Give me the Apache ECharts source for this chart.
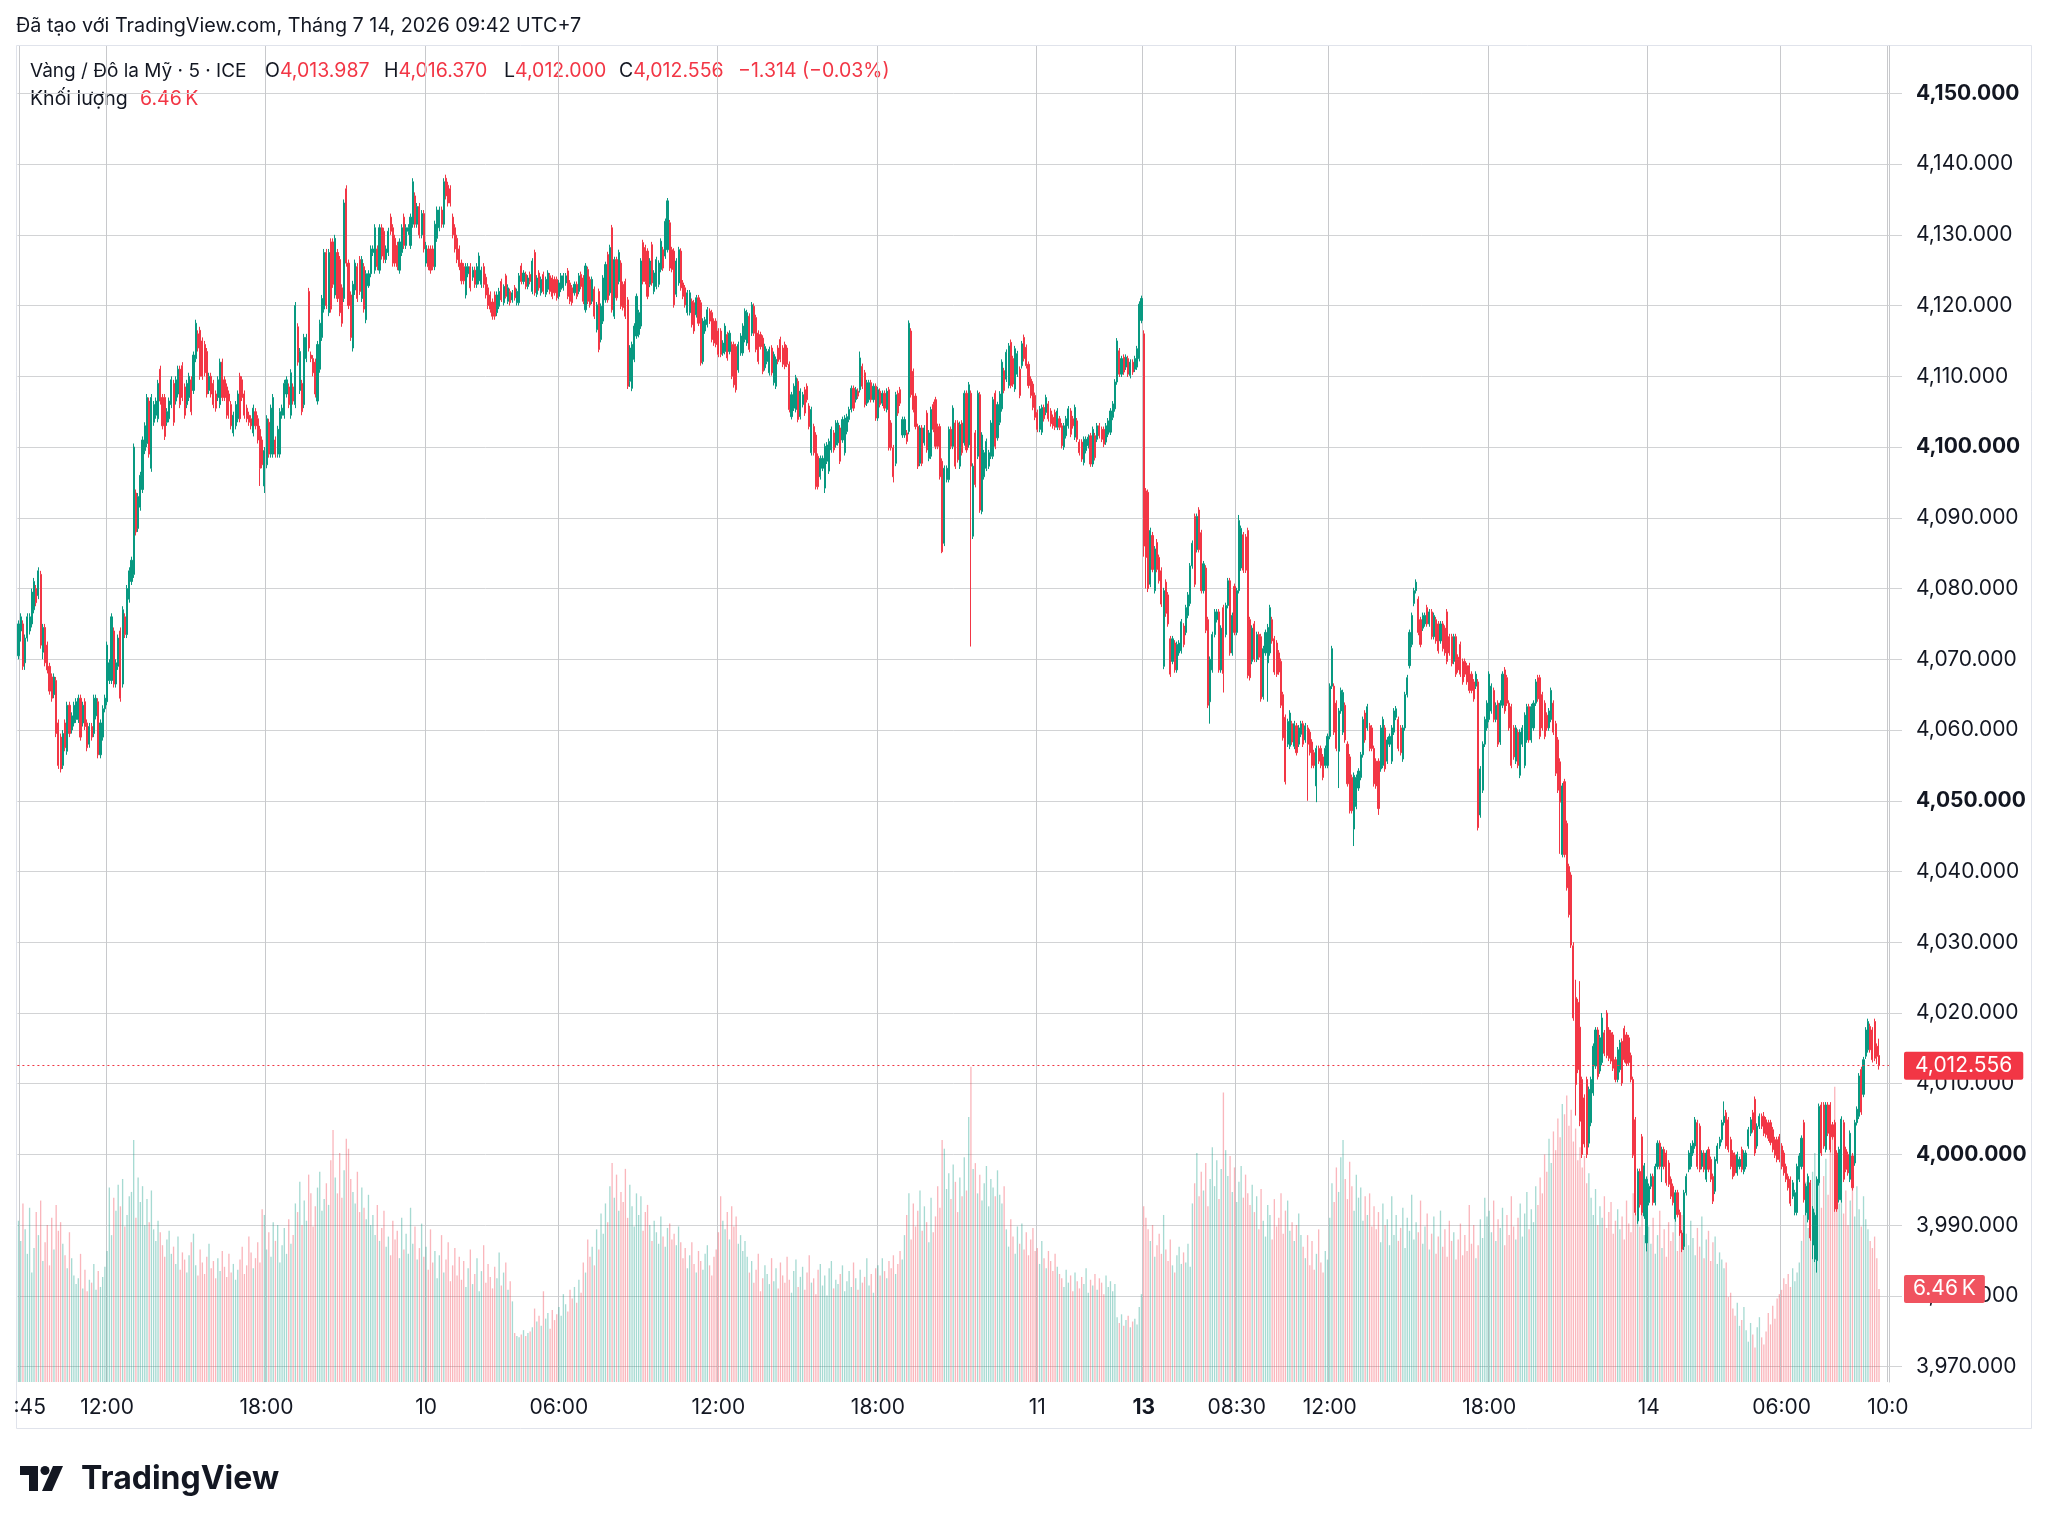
<!DOCTYPE html>
<html><head><meta charset="utf-8">
<script src="https://cdn.jsdelivr.net/npm/echarts@6/dist/echarts.min.js"></script>
<style>html,body{margin:0;padding:0;background:#fff}#c{width:2048px;height:1529px}</style>
</head><body><div id="c"></div>
<script>
// ---- time sessions (5-minute bars, UTC+7) ----
const sessions = [['09','08:40','23:55'],['10','00:00','03:55'],['10','05:00','23:55'],['11','00:00','03:55'],['13','05:00','23:55'],['14','00:00','03:55'],['14','05:00','10:00']];
// ---- x tick labels ----
const tickLabels = [['09 08:45',':45'],['09 12:00','12:00'],['09 18:00','18:00'],['10 00:00','10'],['10 06:00','06:00'],['10 12:00','12:00'],['10 18:00','18:00'],['11 00:00','11'],['13 05:00','13'],['13 08:30','08:30'],['13 12:00','12:00'],['13 18:00','18:00'],['14 00:00','14'],['14 06:00','06:00'],['14 10:00','10:0']];
const priceTicks = [3970,3980,3990,4000,4010,4020,4030,4040,4050,4060,4070,4080,4090,4100,4110,4120,4130,4140,4150];
// ---- candles [open, close, low, high] ----
const day09 = [
[4070.5,4075,4070,4075.5],[4074,4076,4072.5,4076.5],[4075,4069,4068.5,4075.5],[4069.5,4073,4068.5,4073.5],[4073,4076,4072.5,4076.5],[4074,4076,4073.5,4076.5],[4075,4079.5,4074.5,4080],[4077,4081,4076.5,4081.5],[4080,4078,4077.5,4080.5],[4079,4082.5,4078.5,4083],
[4082,4072,4071.5,4082.5],[4071,4074.5,4070,4075],[4074.5,4069.5,4069,4075],[4072,4068.5,4068,4072.5],[4069,4065.5,4065,4069.5],[4067.5,4064.5,4064,4068],[4065,4067.5,4064.5,4068],[4067,4059.5,4059,4067.5],[4061,4055,4054.5,4061.5],[4059,4054.5,4054,4059.5],
[4055,4059.5,4054.5,4060],[4061,4057.5,4057,4061.5],[4057,4063.5,4056.5,4064],[4063.5,4059.5,4059,4064],[4060,4062,4059.5,4062.5],[4061,4063.5,4060.5,4064],[4061.5,4064,4061,4064.5],[4061.5,4064.5,4061,4065],[4064.5,4059,4058.5,4065],[4061,4063.5,4060.5,4064],
[4064,4060.5,4060,4064.5],[4061,4057.5,4057,4061.5],[4058,4060.5,4057.5,4061],[4060.5,4059,4058.5,4061],[4059.5,4064.5,4059,4065],[4062,4064.5,4061.5,4065],[4064,4056.5,4056,4064.5],[4056.5,4061,4056,4061.5],[4059,4063,4058.5,4063.5],[4063,4064.5,4062.5,4065],
[4064,4072,4063.5,4072.5],[4067,4069.5,4066.5,4070],[4067,4076,4066.5,4076.5],[4074,4066.5,4066,4074.5],[4066.5,4069.5,4066,4070],[4069,4073,4068.5,4073.5],[4074,4064.5,4064,4074.5],[4066.5,4077,4066,4077.5],[4076,4073.5,4073,4076.5],[4073.5,4080,4073,4080.5],
[4078.5,4082.5,4078,4083],[4081,4084,4080.5,4084.5],[4082,4100,4081.5,4100.5],[4093.5,4088,4087.5,4094],[4088.5,4093,4088,4093.5],[4091.5,4096,4091,4096.5],[4094,4101,4093.5,4101.5],[4099.5,4103,4099,4103.5],[4100.5,4107,4100,4107.5],[4106.5,4099,4098.5,4107],
[4097,4107,4096.5,4107.5],[4103.5,4106,4103,4106.5],[4104.5,4106.5,4104,4107],[4104,4109,4103.5,4109.5],[4111,4106.5,4106,4111.5],[4107,4103,4102.5,4107.5],[4107,4101.5,4101,4107.5],[4103.5,4105,4103,4105.5],[4104,4106.5,4103.5,4107],[4106,4109.5,4105.5,4110],
[4109,4103.5,4103,4109.5],[4106.5,4109.5,4106,4110],[4107.5,4111,4107,4111.5],[4111,4106,4105.5,4111.5],[4111.5,4107,4106.5,4112],[4108.5,4104.5,4104,4109],[4106,4109,4105.5,4109.5],[4107,4110,4106.5,4110.5],[4109.5,4105,4104.5,4110],[4108,4113,4107.5,4113.5],
[4112.5,4117.5,4112,4118],[4116,4114,4113.5,4116.5],[4116.5,4110,4109.5,4117],[4115,4110,4109.5,4115.5],[4114.5,4110.5,4110,4115],[4113.5,4107.5,4107,4114],[4108,4110,4107.5,4110.5],[4110,4107.5,4107,4110.5],[4109,4106,4105.5,4109.5],[4107.5,4105.5,4105,4108],
[4107,4109.5,4106.5,4110],[4106,4112,4105.5,4112.5],[4112,4107,4106.5,4112.5],[4109.5,4107,4106.5,4110],[4108.5,4104.5,4104,4109],[4107.5,4106.5,4104,4108],[4106,4103,4102.5,4106.5],[4102,4104.5,4101.5,4105],[4103,4106,4102.5,4106.5],[4104,4107.5,4103.5,4108],
[4110,4104,4103.5,4110.5],[4109.5,4107,4106.5,4110],[4107.5,4104.5,4104,4108],[4105.5,4104,4103.5,4106],[4104.5,4103.5,4103,4105],[4104,4103,4102.5,4104.5],[4102,4105.5,4101.5,4106],[4105,4103,4102.5,4105.5],[4104,4101,4100.5,4104.5],[4102.5,4097,4094.5,4103],
[4101,4097.5,4097,4101.5],[4094.5,4099.5,4093.5,4100],[4097.5,4104,4097,4104.5],[4103.5,4099,4098.5,4104],[4099,4105.5,4098.5,4106],[4099,4107,4098.5,4107.5],[4101,4099,4098.5,4101.5],[4099,4102.5,4098.5,4103],[4099,4105,4098.5,4105.5],[4104.5,4105.5,4104,4106],
[4104.5,4109,4104,4109.5],[4107.5,4109.5,4107,4110],[4108.5,4106,4105.5,4109],[4104.5,4110.5,4104,4111],[4108.5,4106.5,4106,4109],[4106,4120,4105.5,4120.5],[4117,4112,4111.5,4117.5],[4108,4113.5,4107.5,4114],[4109,4105,4104.5,4109.5],[4106,4115.5,4105.5,4116],
[4112.5,4115.5,4112,4116],[4122,4114,4113.5,4122.5],[4113,4112.5,4112,4113.5],[4112.5,4110.5,4110,4113],[4112,4107.5,4107,4112.5],[4106.5,4114.5,4106,4115],[4111,4117.5,4110.5,4118],[4115.5,4121,4115,4121.5],[4119.5,4127.5,4119,4128],[4127.5,4120,4119.5,4128],
[4119,4127.5,4118.5,4128],[4129,4119.5,4119,4129.5],[4129,4123,4122.5,4129.5],[4121.5,4129.5,4121,4130],[4127.5,4121,4120.5,4128],[4126.5,4119,4118.5,4127],[4122.5,4117.5,4117,4123],[4121,4134.5,4120.5,4135],[4136.5,4126,4125.5,4137],[4126,4120,4119.5,4126.5],
[4121.5,4115.5,4115,4122],[4114,4123,4113.5,4123.5],[4122.2,4126,4121.5,4126.5],[4125.5,4121,4120.5,4126],[4126.5,4122,4121.5,4127],[4121,4126.5,4120.5,4127],[4125.5,4119.5,4119,4126],[4118,4124.5,4117.5,4125],[4122.8,4124.5,4122.5,4125],[4124.5,4128,4124,4128.5],
[4127.5,4128,4127,4128.5],[4125,4131,4124.5,4131.5],[4128,4125.5,4125,4128.5],[4125,4131,4124.5,4131.5],[4131,4127,4126.5,4131.5],[4130.5,4126.5,4126,4131],[4126.5,4128,4126,4128.5],[4127.5,4130.5,4127,4131],[4132.5,4130.5,4130,4133],[4131,4126,4125.5,4131.5],
[4129.5,4126,4125.5,4130],[4128.5,4125.5,4125,4129],[4125,4129,4124.5,4129.5],[4127.5,4131,4127,4131.5],[4132.5,4128.5,4128,4133],[4128.5,4131,4128,4131.5],[4130.5,4131,4130,4131.5],[4128.5,4132.5,4128,4133],[4131.5,4137.5,4131,4138],[4135.5,4131.5,4131,4136],
[4131.5,4134,4131,4134.5],[4134,4130,4129.5,4134.5],[4130,4133,4129.5,4133.5],[4133,4128,4127.5,4133.5]];
const day10 = [
[4126,4128.5,4125.5,4129],[4128,4125.5,4125,4128.5],[4128,4125,4124.5,4128.5],[4128,4125.5,4125,4128.5],[4125.5,4131.5,4125,4132],[4129.5,4133.5,4129,4134],[4131,4133.5,4130.5,4134],[4133.5,4131.5,4131,4134],[4131.5,4137.5,4131,4138],[4138,4135.5,4135,4138.5],
[4137,4134.5,4134,4137.5],[4136.5,4134.5,4134,4137],[4132.5,4130,4129.5,4133],[4131,4128,4127.5,4131.5],[4129.5,4126.5,4126,4130],[4128,4125.5,4125,4128.5],
[4126,4123.5,4123,4126.5],[4125.5,4123.5,4123,4126],[4121.5,4125.5,4121,4126],[4124.5,4125.5,4124,4126],[4125.5,4122.5,4122,4126],[4124,4125,4123.5,4125.5],[4125,4123,4122.5,4125.5],[4123,4125.5,4122.5,4126],[4123.5,4127,4123,4127.5],[4123,4125,4122.5,4125.5],
[4125.5,4123,4122.5,4126],[4124,4121.5,4121,4124.5],[4122.5,4120,4119.5,4123],[4121.5,4119.5,4119,4122],[4120.5,4118.5,4118,4121],[4121.5,4118.5,4118,4122],[4119,4121.5,4118.5,4122],
[4119.9,4122,4119.5,4122.5],[4123.4,4120.8,4120.5,4123.8],[4120.4,4122.7,4120,4123],
[4124.2,4121.3,4121,4124.5],[4120.6,4122.5,4120.2,4123],[4122,4120.4,4120,4122.4],[4120.8,4121.8,4120.4,4122.2],[4122.5,4121.1,4120.7,4122.9],[4120.4,4122,4120,4122.4],[4120.4,4124.2,4120,4124.6],[4125.6,4123.4,4123,4126],[4123.4,4124.6,4123,4125],[4124.4,4122.7,4122.3,4124.8],
[4122.7,4123.9,4122.3,4124.3],[4124.4,4123.4,4123,4124.8],[4122,4126.3,4121.6,4126.7],[4127.5,4121.8,4121.4,4127.9],[4121.6,4123.9,4121.2,4124.3],[4124.6,4122.5,4122.1,4125],[4121.8,4123.7,4121.4,4124.1],[4124.4,4122,4121.6,4124.8],[4121.6,4123.7,4121.2,4124.1],[4122.3,4124.6,4121.9,4125],
[4124.2,4122,4121.6,4124.6],[4123.9,4121.3,4120.9,4124.3],[4123.7,4121.8,4121.4,4124.1],[4123.7,4121.1,4120.7,4124.1],[4121.3,4123.2,4120.9,4123.6],[4122.3,4124.2,4121.9,4124.6],[4122.5,4124.2,4122.1,4124.6],[4123.2,4124.2,4122.8,4124.6],[4124.9,4121.3,4120.9,4125.3],[4123.2,4120.6,4120.2,4123.6],
[4122.5,4120.4,4120,4122.9],[4121.8,4123,4121.4,4123.4],[4123,4121.3,4120.9,4123.4],[4122,4124.2,4121.6,4124.6],[4124.4,4122.7,4122.3,4124.8],[4123.9,4120.6,4120.2,4124.3],[4119.4,4125.6,4119,4126],[4125.1,4120.6,4120.2,4125.5],[4123.7,4120.1,4119.7,4124.1],[4120.6,4123.7,4120.2,4124.1],
[4122.3,4118.5,4118.1,4122.7],[4116.6,4120.1,4116.2,4120.5],[4122,4113.8,4113.4,4122.4],[4115.2,4119.9,4114.8,4120.3],[4117.8,4123.9,4117.4,4124.3],[4120.8,4125.8,4120.4,4126.2],[4127.2,4120.8,4120.4,4127.6],[4121.8,4128.2,4121.4,4128.6],[4131,4119.4,4119,4131.4],[4118.5,4126.5,4118.1,4126.9],
[4126.5,4121.1,4120.7,4126.9],[4123.4,4127.5,4123,4127.9],[4126,4119.9,4119.5,4126.4],[4123,4119.7,4119.3,4123.4],[4123.4,4118.5,4118.1,4123.8],[4120.8,4108.6,4108.2,4121.2],[4109.3,4114,4108.5,4114.4],[4108.3,4114.5,4107.9,4114.9],[4112.4,4117.1,4112,4117.5],[4115.7,4121.3,4115.3,4121.7],
[4115.9,4119,4115.5,4119.4],[4117.1,4126.3,4116.7,4126.7],[4128.9,4123.4,4123,4129.3],[4128.2,4123.4,4123,4128.6],[4127.7,4121.3,4120.9,4128.1],[4123,4126.3,4122.6,4126.7],[4128.6,4123.2,4122.8,4129],[4122,4124.6,4121.6,4125],[4122.7,4126.5,4122.3,4126.9],[4123,4126,4122.6,4126.4],
[4125.1,4129.1,4124.7,4129.5],[4127.9,4125.3,4124.9,4128.3],[4127,4131.9,4126.6,4132.3],[4127.9,4134.8,4127.5,4135.2],[4131.7,4125.3,4124.9,4132.1],[4127.9,4125.1,4124.7,4128.3],[4127.7,4120.1,4119.7,4128.1],[4121.6,4126.3,4121.2,4126.7],[4123.2,4127.9,4122.8,4128.3],[4127.7,4122.5,4122.1,4128.1],
[4123.2,4121.3,4120.9,4123.6],[4122.5,4120.1,4119.7,4122.9],[4119,4121.8,4118.6,4122.2],[4119,4121.8,4118.6,4122.2],[4120.6,4117.3,4116.9,4121],[4120.4,4116.4,4116,4120.8],[4118.7,4121.1,4118.3,4121.5],[4121.1,4117.5,4117.1,4121.5],[4120.4,4111.9,4111.5,4120.8],[4112.1,4117.8,4111.7,4118.2],
[4116.4,4118,4116,4118.4],[4117.3,4119.4,4116.9,4119.8],[4119.2,4117.8,4117.4,4119.6],[4119,4115.2,4114.8,4119.4],[4117.8,4114.7,4114.3,4118.2],[4117.8,4114.5,4114.1,4118.2],[4116.4,4113.1,4112.7,4116.8],[4116.4,4113.1,4112.7,4116.8],[4113.3,4114.7,4112.9,4115.1],[4113.5,4117.1,4113.1,4117.5],
[4115.9,4112.6,4112.2,4116.3],[4113.5,4116.1,4113.1,4116.5],[4114.5,4110,4109.6,4114.9],[4114.5,4108.8,4108.4,4114.9],[4114.2,4108.1,4107.7,4114.6],[4110.9,4114.5,4110.5,4114.9],[4113.3,4115.7,4112.9,4116.1],[4113.3,4117.1,4112.9,4117.5],[4115.2,4119.2,4114.8,4119.6],[4114.7,4119,4114.3,4119.4],
[4118.5,4113.8,4113.4,4118.9],[4116.1,4120.1,4115.7,4120.5],[4119.9,4116.1,4115.7,4120.3],[4118.3,4113.8,4113.4,4118.7],[4116.1,4112.1,4111.7,4116.5],[4115.9,4114.2,4113.8,4116.3],[4115.4,4110.7,4110.3,4115.8],[4111.2,4114.2,4110.8,4114.6],[4112.1,4113.5,4111.7,4113.9],[4110.5,4113.8,4110.1,4114.2],
[4114,4110.5,4110.1,4114.4],[4109.1,4113.1,4108.7,4113.5],[4108.6,4112.4,4108.2,4112.8],[4114,4112.1,4111.7,4114.4],[4115.2,4112.4,4112,4115.6],[4114,4111.7,4111.3,4114.4],[4114.5,4111.4,4111,4114.9],[4114,4111.7,4111.3,4114.4],[4111.7,4105.3,4104.9,4112.1],[4104.3,4107.4,4103.9,4107.8],
[4105.5,4108.6,4105.1,4109],[4105.3,4109.8,4104.9,4110.2],[4109.3,4103.9,4103.5,4109.7],[4104.3,4107.9,4103.9,4108.3],[4106,4107.4,4105.6,4107.8],[4108.1,4104.8,4104.4,4108.5],[4108.6,4106.7,4106.3,4109],[4105.8,4102.9,4102.5,4106.2],[4099.2,4105.3,4098.8,4105.7],[4102.9,4099.2,4098.8,4103.3],
[4101.7,4094.4,4094,4102.1],[4098.7,4094.4,4094,4099.1],[4095.8,4098.4,4095.4,4098.8],[4097,4098.4,4096.6,4098.8],[4094.2,4100.1,4093.5,4100.5],[4098,4100.3,4097.6,4100.7],[4096.6,4100.8,4096.2,4101.2],[4099.6,4102.5,4099.2,4102.9],[4102,4099.6,4099.2,4102.4],[4100.3,4103.4,4099.9,4103.8],
[4100.6,4103.4,4100.2,4103.8],[4102.7,4098,4097.6,4103.1],[4101,4103.9,4100.6,4104.3],[4099.2,4104.1,4098.8,4104.5],[4102.2,4104.3,4101.8,4104.7],[4103.9,4105.3,4103.5,4105.7],[4105.3,4108.3,4104.9,4108.7],[4108.3,4105.5,4105.1,4108.7],[4106.7,4108.1,4106.3,4108.5],[4107.9,4107.2,4106.8,4108.3],
[4108.1,4112.6,4107.7,4113.5],[4111.4,4108.6,4108.2,4111.8],[4110.5,4106,4105.6,4110.9],[4106.2,4109.1,4105.8,4109.5],[4106.7,4109.1,4106.3,4109.5],[4109.1,4106.7,4106.3,4109.5],[4106.7,4108.6,4106.3,4109],[4108.6,4104.1,4103.7,4109],[4104.1,4108.1,4103.7,4108.5],[4107.9,4106,4105.6,4108.3],
[4106.2,4107.6,4105.8,4108],[4107.6,4105.5,4105.1,4108],[4105.3,4107.9,4104.9,4108.3],[4108.1,4099.9,4099.5,4108.5],[4103.4,4099.9,4099.5,4103.8],[4099.9,4095.8,4095,4100.3],[4097.7,4107.4,4097.3,4107.8],[4107.6,4104.8,4104.4,4108],[4108.1,4106.2,4105.8,4108.5],[4101.7,4103.9,4101.3,4104.3],
[4101.7,4103.9,4101.3,4104.3],[4102,4100.8,4100.4,4102.4],[4102.2,4117.5,4101.8,4117.9],[4116.4,4107.4,4107,4116.8],[4110.7,4105.3,4104.9,4111.1],[4107.2,4102.9,4102.5,4107.6],[4102.9,4097.3,4096.9,4103.3],[4097.7,4102.7,4097.3,4103.1],[4102.7,4097.7,4097.3,4103.1],[4100.6,4102.7,4100.2,4103.1],
[4104.8,4099.6,4099.2,4105.2],[4098.4,4102,4098,4102.4],[4098.7,4105.3,4098.3,4105.7],[4106,4102.5,4102.1,4106.4],[4106.7,4100.1,4099.7,4107.1],[4102.9,4100.1,4099.7,4103.3],[4102.9,4095.8,4095.4,4103.3],[4098,4085.2,4085,4098.4],[4086.4,4097,4086,4097.4],[4095.4,4097,4095,4097.4],
[4095.4,4102.5,4095,4102.9],[4102.5,4100.1,4099.7,4102.9],[4100.1,4105.5,4099.7,4105.9],[4103.4,4097.3,4096.9,4103.8],[4103.4,4098.2,4097.8,4103.8],[4097.3,4103.2,4096.9,4103.6],[4103.4,4099.2,4098.8,4103.8],[4100.6,4107.6,4100.2,4108],[4107.6,4099.6,4099.2,4108],[4100.3,4108.8,4099.9,4109.2],
[4107.6,4097.3,4071.8,4108],[4087.4,4097.3,4087,4097.7],[4102,4094.7,4094.3,4102.4],[4098.7,4107.6,4098.3,4108],[4107.4,4091.1,4090.7,4107.8],[4090.9,4101.7,4090.5,4102.1],[4095.8,4099.2,4095.4,4099.6],[4097,4100.8,4096.6,4101.2],[4097.3,4099.2,4096.9,4099.6],[4098.7,4103.4,4098.3,4103.8],
[4098.7,4106.7,4098.3,4107.1],[4107.6,4100.1,4099.7,4108],[4101.3,4106,4100.9,4106.4],
[4103.5,4107.5,4103.1,4107.9],[4105.4,4112,4105,4112.4],[4110.8,4108,4107.6,4111.2],[4109.6,4113.4,4109.2,4113.8],[4108.7,4114.3,4108.3,4114.7],[4114.8,4108.7,4108.3,4115.2],[4112.5,4108.9,4108.5,4112.9],[4108.2,4113.9,4107.8,4114.3],[4110.3,4113.2,4109.9,4113.6],[4111,4107.3,4106.9,4111.4],
[4111.5,4114.6,4111.1,4115],[4115.5,4112.5,4112.1,4115.9],[4114.1,4111.5,4111.1,4114.5],[4111.7,4108.7,4108.3,4112.1],[4109.6,4107.3,4106.9,4110],[4108.9,4105.6,4105.2,4109.3],[4107.3,4104.2,4103.8,4107.7]];
const day11 = [
[4104.9,4102.5,4102.1,4105.3],[4102.5,4105.4,4102.1,4105.8],[4102.1,4105.6,4101.7,4106],[4105.6,4104,4103.6,4106],[4104.9,4107,4104.5,4107.4],[4106.1,4104,4103.6,4106.5],[4105.1,4103.3,4102.9,4105.5],[4104.2,4103,4102.6,4104.6],[4104.9,4102.8,4102.4,4105.3],[4102.8,4105.1,4102.4,4105.5],
[4104,4102.8,4102.4,4104.4],[4103,4100.2,4099.8,4103.4],[4100,4103,4099.6,4103.4],[4101.6,4104,4101.2,4104.4],[4103,4105.4,4102.6,4105.8],[4105.1,4101.8,4101.4,4105.5],[4104,4103,4102.6,4104.4],[4101.4,4105.6,4101,4106],[4103.7,4101.1,4100.7,4104.1],[4100.7,4099.2,4098.8,4101.1],
[4100.7,4098.3,4097.9,4101.1],[4097.8,4101.1,4097.4,4101.5],[4099.5,4101.1,4099.1,4101.5],[4100.2,4101.4,4099.8,4101.8],[4101.6,4097.6,4097.2,4102],[4097.6,4102.5,4097.2,4102.9],[4101.6,4098.5,4098.1,4102],[4101.1,4103,4100.7,4103.4],[4103,4101.6,4101.2,4103.4],[4102.5,4101.1,4100.7,4102.9],
[4102.5,4100.4,4100,4102.9],[4100.7,4103,4100.3,4103.4],[4101.8,4103.7,4101.4,4104.1],[4102.1,4105.1,4101.7,4105.5],[4104.2,4106.1,4103.8,4106.5],[4105.4,4109.2,4105,4109.6],[4109.2,4115,4108.8,4115.4],[4113.6,4110.3,4109.9,4114],[4110.3,4112.5,4109.9,4112.9],[4112.7,4110.6,4110.2,4113.1],
[4111.3,4112.7,4110.9,4113.1],[4112.5,4110.3,4109.9,4112.9],[4110.1,4112,4109.7,4112.4],[4112,4110.6,4110.2,4112.4],[4111,4112.5,4110.6,4112.9],[4111.3,4113.9,4110.9,4114.3],[4112.5,4120.2,4112.1,4120.6],[4117.9,4121,4117.5,4121.4]];
const day13 = [
[4116,4086,4084.5,4116.5],[4093.8,4084.4,4080,4094.2],[4093.6,4080,4079.5,4094],[4080.6,4088.2,4080.2,4088.6],[4087.5,4082.7,4082.3,4088],[4079.7,4085.6,4079.3,4086],[4086.5,4082.7,4082.3,4087],[4084.4,4081.1,4080.7,4084.8],[4082.5,4077.8,4077.4,4083],[4069,4079.7,4068.6,4080.1],
[4080.9,4076.5,4076,4081.3],[4079.1,4075,4074.6,4079.5],[4072.9,4067.9,4067.5,4073.3],[4069.7,4072.9,4069.3,4073.3],[4072.3,4068.5,4068.1,4072.7],[4068.5,4072.1,4068.1,4072.5],[4070.9,4072.3,4070.5,4072.7],[4071.2,4075.3,4070.8,4075.7],[4074.7,4072.1,4071.7,4075.1],[4073.8,4077.3,4073.4,4077.7],
[4076.2,4079.1,4075.8,4079.5],[4077.9,4083.2,4077.5,4083.6],[4083.2,4086.4,4082.8,4086.8],[4090.2,4080.6,4080.2,4090.6],[4085.5,4090.2,4085.1,4090.6],[4091.1,4085.5,4085.1,4091.5],[4087.9,4079.7,4079.3,4088.3],[4079.7,4083.5,4079.3,4083.9],[4082.9,4074.1,4073.7,4083.3],[4075.6,4063.5,4063.1,4076],
[4064,4070,4060.9,4070.4],[4068.5,4073.5,4068.1,4073.9],[4073.5,4076.7,4073.1,4077.1],[4075.6,4076.7,4075.2,4077.1],[4076.7,4068.5,4068.1,4077.1],[4068.5,4074.4,4068.1,4074.8],[4077.3,4068,4065.3,4077.7],[4073.5,4077.6,4073.1,4078],[4077.6,4081.1,4077.2,4081.5],[4081.1,4070.9,4070.5,4081.5],
[4070.9,4076.2,4070.5,4076.6],[4080.3,4073.8,4073.4,4080.7],[4073.8,4079.7,4073.4,4080.1],[4079.7,4089.6,4079.3,4090.4],[4082.9,4088.5,4082.5,4088.9],[4087.6,4082.6,4082.2,4088],[4087.3,4082.6,4082.2,4087.7],[4088.2,4067.7,4067.3,4088.6],[4075.6,4067.4,4067,4076],[4069.7,4074.4,4069.3,4074.8],
[4075,4070,4069.6,4075.4],[4070,4073.5,4069.6,4073.9],[4073.5,4070.3,4069.9,4073.9],[4073.2,4064.4,4064,4073.6],[4064.7,4071.5,4064.3,4071.9],[4070.9,4073.8,4070.5,4074.2],[4069.5,4074.5,4064,4075],[4070.9,4077.3,4070.5,4077.7],[4075.6,4072.6,4072.2,4076],[4072.9,4068.2,4067.8,4073.3],
[4072.3,4067.9,4067.5,4072.7],[4070.9,4068.2,4067.8,4071.3],[4069.7,4063.5,4063.1,4070.1],[4065,4058.9,4058.5,4065.4],[4061.8,4052.7,4052.3,4062.2],[4058,4061.2,4057.6,4061.6],[4057.7,4062.4,4057.3,4062.8],[4060.9,4058.3,4057.9,4061.3],[4057.7,4060.9,4057.3,4061.3],[4060.6,4056.8,4056.4,4061],
[4058,4060.3,4057.6,4060.7],[4059.4,4060.9,4059,4061.3],[4060.9,4058,4057.6,4061.3],[4058.6,4060.6,4058.2,4061],[4060.3,4058,4050,4060.7],[4059.7,4056.8,4056.4,4060.1],[4058.3,4055,4054.6,4058.7],[4056.8,4055,4054.6,4057.2],[4052.1,4057.4,4049.8,4057.8],[4057.4,4055.6,4055.2,4057.8],
[4057.4,4055,4054.6,4057.8],[4056.2,4053.3,4052.9,4056.6],[4055,4057.4,4054.6,4057.8],[4055,4059.1,4054.6,4059.5],[4059.1,4066.2,4058.7,4066.6],[4066.2,4071.5,4065.8,4071.9],[4066.2,4059.7,4059.3,4066.6],[4063.8,4057.4,4057,4064.2],[4057,4062.7,4051.8,4063.1],[4062.7,4065.6,4062.3,4066],
[4059.7,4065.3,4059.3,4065.7],[4063.5,4058.6,4058.2,4063.9],[4058,4052.4,4052,4058.4],[4056.2,4048.6,4048.2,4056.6],[4053.3,4048.6,4048.2,4053.7],[4046,4053.6,4043.6,4054],[4049.2,4053.3,4048.8,4053.7],[4051.8,4054.2,4051.4,4054.6],[4053.3,4056.5,4052.9,4056.9],[4056.5,4061.5,4056.1,4061.9],
[4062.4,4058.6,4058.2,4062.8],[4060.3,4063.3,4059.9,4063.7],[4060.6,4057.4,4057,4061],[4060.3,4057.4,4057,4060.7],[4057.4,4052.4,4052,4057.8],[4055.6,4052.1,4051.7,4056],[4055.6,4048.9,4048,4056],[4054.5,4060.3,4054.1,4060.7],[4055,4061.5,4054.6,4061.9],[4060.3,4054.5,4054.1,4060.7],
[4055.6,4058.6,4055.2,4059],[4058,4059.1,4057.6,4059.5],[4055.6,4060.3,4055.2,4060.7],[4059.7,4062.7,4059.3,4063.1],[4061.8,4063,4061.4,4063.4],[4061.5,4057.4,4057,4061.9],[4060.3,4056.8,4056.4,4060.7],[4055.9,4060.3,4055.5,4060.7],[4060.3,4065,4059.9,4065.4],[4065,4067.4,4064.6,4067.8],
[4069.1,4073.8,4068.7,4074.2],[4072.1,4076.2,4071.7,4076.6],[4077.9,4079.7,4077.5,4080.1],[4079.7,4080.9,4079.3,4081.3],[4078.5,4073.8,4073.4,4078.9],[4075.6,4072.1,4071.7,4076],[4074.4,4076.2,4074,4076.6],[4075,4076.2,4074.6,4076.6],[4077.3,4075,4074.6,4077.7],[4075,4076.7,4074.6,4077.1],
[4076.7,4073.2,4072.8,4077.1],[4073.2,4076.2,4072.8,4076.6],[4075.6,4072.6,4072.2,4076],[4075,4071.2,4070.8,4075.4],[4072.6,4075,4072.2,4075.4],[4075,4071.5,4071.1,4075.4],[4074.4,4070.9,4070.5,4074.8],[4076.7,4069.7,4069.3,4077.1],[4073.2,4070.9,4070.5,4073.6],[4073.2,4069.4,4069,4073.6],
[4069.7,4073.2,4069.3,4073.6],[4073.2,4067.9,4067.5,4073.6],[4070.3,4068.5,4068.1,4070.7],[4072.1,4067.9,4067.5,4072.5],[4069.7,4066.8,4066.4,4070.1],[4069.7,4067.9,4067.5,4070.1],[4069.1,4066.8,4066.4,4069.5],[4069.1,4065.6,4065.2,4069.5],[4067.9,4065.6,4065.2,4068.3],[4066.8,4064.4,4064,4067.2],
[4066.2,4067.9,4065.8,4068.3],[4066.8,4046.2,4045.8,4067.2],[4048,4054.5,4047.6,4054.9],[4051.5,4058,4051.1,4058.4],[4058,4061.5,4057.6,4061.9],[4060.3,4063.8,4059.9,4064.2],[4061.5,4067.9,4061.1,4068.3],[4062.7,4066.2,4062.3,4066.6],[4065.6,4061.5,4061.1,4066],[4061.5,4063.5,4061.1,4063.9],
[4063.8,4058,4057.6,4064.2],[4058.3,4063.8,4057.9,4064.2],[4063.5,4067.9,4063.1,4068.3],[4068.5,4062.7,4062.3,4068.9],[4067.4,4063.8,4063.4,4067.8],[4063.8,4060.3,4059.9,4064.2],[4063.3,4055,4054.6,4063.7],[4060.3,4056.2,4055.8,4060.7],[4055.6,4060.3,4055.2,4060.7],[4059.7,4055,4054.6,4060.1],
[4053.6,4059.7,4053.2,4060.1],[4058,4060.3,4057.6,4060.7],[4055,4062.1,4054.6,4062.5],[4058.6,4063.3,4058.2,4063.7],[4063.3,4058.6,4058.2,4063.7],[4058.6,4063.3,4058.2,4063.7],
[4060.3,4063.8,4059.9,4064.2],[4063.8,4066.8,4063.4,4067.2],[4067.4,4064.4,4064,4067.8],[4067.4,4059.1,4058.7,4067.8],[4065,4060.3,4059.9,4065.4],[4063.8,4059.1,4058.7,4064.2],[4062.1,4060.3,4059.9,4062.5],[4060.3,4062.7,4059.9,4063.1],[4061.5,4065.6,4061.1,4066],[4063.8,4059.7,4059.3,4064.2],
[4060.9,4053.9,4053.5,4061.3],[4058.6,4051.5,4051.1,4059],[4055.5,4049.8,4042.5,4056],[4042.4,4052.1,4042,4052.5],[4052.7,4042.4,4042,4053.1],[4046.8,4037.7,4037.3,4047.2],[4040.7,4033.9,4033.5,4041.1],[4039.5,4029.6,4029.2,4039.9],[4029.5,4019.3,4018.9,4030],[4022.2,4009.9,4005.5,4024.7],
[4021.5,4012,4011.5,4022],[4018,4004.7,4004,4024.5],[4010.6,4000,3999.5,4011],[4008,4001.5,4001,4008.5],[4010.6,4000,3999.5,4011],[4001.6,4009.2,4001,4009.6],[4004.5,4010.6,4004,4011],[4008.7,4015.3,4008.3,4015.7],[4012.5,4017.6,4012.1,4018],[4017.6,4011,4010.6,4018],
[4011.8,4016.5,4011.4,4016.9],[4013,4019.3,4012.6,4020],[4017.2,4014.3,4013.9,4017.6],[4020,4014,4013.6,4020.4],[4017.6,4013.6,4013.2,4018],[4017.2,4013.2,4012.8,4017.6],[4016.9,4012.2,4011.8,4017.3],[4013.4,4010.6,4010.2,4013.8],[4010.6,4014.8,4010.2,4015.2],[4012,4015.8,4011.6,4016.2],
[4016,4010.1,4009.7,4016.4],[4017.8,4013.4,4013,4018.2],[4016.9,4012.9,4012.5,4017.3],[4016.5,4013,4012.6,4016.9],[4014,4010.6,4010.2,4014.4],[4010.6,3999.9,3999.5,4011],[4004.9,3991.8,3991.4,4005.3],[3990.6,3997.6,3990.2,3998],[3997.6,3992.9,3992.5,3998],[4002.5,3991.8,3991.4,4002.9],
[3991.3,3998.4,3990.9,3998.8],[3987.5,3996.5,3986.3,3996.9]];
const day14 = [
[3993.2,3995.5,3992.8,3995.9],[3995.5,3996.9,3995.1,3997.3],[3996.9,3993.2,3992.8,3997.3],[3993.2,3998.3,3992.8,3998.7],[3998.3,4001.6,3997.9,4002],[4001.6,3998.3,3997.9,4002],[3998.3,4000.7,3996.1,4001.1],[4000.7,3998.3,3997.9,4001.1],[4000.2,3996,3995.6,4000.6],[3998.8,3995.8,3995.4,3999.2],
[3996.5,3994.1,3993.7,3996.9],[3995.5,3993.2,3992.8,3995.9],[3990.9,3994.6,3990.5,3995],[3994.6,3991.5,3991.1,3995],[3991.8,3988.9,3988.5,3992.2],[3988.9,3986.6,3986.2,3989.3],[3987,3994.6,3986.5,3995],[3994.6,3996.9,3994.2,3997.3],[3997.9,4000.2,3997.5,4000.6],[3998.3,4001.2,3997.9,4001.6],
[4000.2,4001.6,3999.8,4002],[4001.2,4004.9,4000.8,4005.3],[4004.5,3998.3,3997.9,4004.9],[4004,3997.9,3997.5,4004.4],[3998.3,4000.2,3997.9,4000.6],[4000.2,3997.9,3997.5,4000.6],[3996.5,4000.2,3996.1,4000.6],[4000.7,3997.9,3997.5,4001.1],[3999.3,3996.5,3996.1,3999.7],[3996.9,3993.4,3993,3997.3],
[3994.8,3999.3,3994.4,3999.7],[3999.1,4001.2,3998.7,4001.6],[4001.2,4002.1,4000.8,4002.5],[4002.1,4004.5,4001.7,4004.9],[4004.5,4005.4,4004.1,4007.5],[4005.9,4001.2,4000.8,4006.3],[4004.9,4000.7,4000.3,4005.3],[4002.1,3998.3,3997.9,4002.5],[4000.2,3996.9,3996.5,4000.6],[3999.9,3997.4,3997,4000.3],
[3997.4,4000,3997,4000.4],[3998.3,3999.3,3997.9,3999.7],[4000.7,3997.9,3997.5,4001.1],[3997.6,4000.2,3997.2,4000.6],[3998.3,4000.2,3997.9,4000.6],[4001.2,4003.5,4000.8,4003.9],[4003,4004.9,4002.6,4005.3],[4005.9,4003.5,4003.1,4006.3],[4007.8,4000.2,3999.8,4008.2],[4001.2,4004,4000.8,4004.4],
[4004,4005.4,4003.6,4005.8],[4005.4,4004,4003.6,4005.8],[4005.4,4003,4002.6,4006],[4004.9,4002.8,4002.4,4005.3],[4004.5,4002.3,4001.9,4004.9],[4004.5,4001.7,4001.3,4004.9],[4003.5,4000.7,4000.3,4003.9],[4002.1,3999.9,3999.5,4002.5],[4002.1,3999.3,3998.9,4002.5],[4002.5,3999.3,3998.9,4002.9],
[4001.2,3998.3,3997.9,4001.6],[4000.2,3997.4,3997,4000.6],[3998.3,3996.5,3996.1,3998.7],[3996.9,3995.3,3994.9,3997.3],[3996.5,3993.1,3992.7,3996.9],[3994.1,3996,3993.7,3996.4],[3991.8,3994.6,3991.4,3995],[3991.8,3998.3,3991.4,3998.7],[3996.5,3999.8,3996.1,4000.2],[3998.3,4002.3,3997.9,4002.7],
[4004.5,3993.6,3993.2,4004.9],[3991.8,3995.5,3991.4,3995.9],[3990.8,3996.9,3990.4,3997.3],[3996,3988.2,3987.8,3996.4],[3987.2,3992.3,3985.2,3992.7],[3985.2,3991.4,3984.8,3991.8],[3985,3996.5,3983.3,3996.9],[3996,4006.8,3995.6,4007.2],[4007,4000.2,3999.8,4007.4],[4007,4001.2,4000.8,4007.4],
[4000.7,4007,4000.3,4007.4],[4007,4003,4002.6,4007.4],[4007,4000.7,4000.3,4007.4],[4004.2,4002.5,4002.1,4004.6],[4004.5,3992.3,3991.9,4004.9],[4000.2,3992.3,3991.9,4000.6],[3993.6,4000.7,3993.2,4001.1],[3993.6,4005,3993.2,4005.4],[4004.5,3996.5,3996.1,4004.9],[4000.7,3997.9,3997.5,4001.1],
[4000,3997.4,3997,4000.4],[3996.5,4003,3996.1,4003.4],[3999.8,3995.3,3994.9,4000.2],[3998.8,4004.5,3998.4,4004.9],[4004.5,4006.4,4004.1,4006.8],[4005.4,4011.1,4005,4011.5],[4012,4006,4005.6,4012.4],[4008.5,4013.4,4008.1,4013.8],[4013.9,4017.6,4013.5,4018],[4014.8,4018.8,4014.4,4019.2],
[4018.1,4014.8,4014.4,4018.5],[4017.6,4013.4,4013,4018],[4018.8,4013.6,4013.2,4019.2],[4015.3,4013.87,4012.8,4015.7],[4013.987,4012.556,4012,4016.37]];
// ---- volume (thousands) ----
const vol09 = [11.2,9.8,12.4,10.6,8.9,12.1,7.6,9.3,11.8,10.2,12.6,8.4,9.7,10.9,8.1,11.4,9.2,12.3,10.5,11.1,9.6,8.8,7.9,10.4,8.6,7.4,6.8,7.2,8.9,6.5,7.8,6.3,7.1,6.9,8.2,6.4,7.7,6.6,7.3,8.0,9.1,13.5,10.2,12.8,11.9,13.7,12.2,14.1,10.8,11.6,12.9,13.2,16.8,11.4,14.2,12.5,13.6,10.9,12.7,11.1,13.3,10.6,9.8,11.2,10.4,9.5,8.7,9.9,10.5,8.9,9.4,8.2,10.1,7.8,9.0,8.5,7.6,8.8,9.7,10.3,8.1,7.4,9.2,8.3,7.5,8.7,9.6,7.9,8.4,7.2,8.6,7.7,9.1,8.0,7.3,8.9,7.6,8.2,7.1,7.8,8.5,9.4,7.5,8.1,10.1,9.0,7.9,8.6,9.7,8.3,12.0,11.6,9.2,10.4,8.7,11.1,9.8,10.9,8.3,9.5,10.7,8.9,11.3,9.6,10.2,12.4,11.8,13.9,10.9,12.6,11.2,14.4,13.1,10.8,12.2,13.5,14.6,11.9,12.7,13.8,12.3,15.4,17.5,14.2,13.1,15.9,12.8,14.7,16.9,16.2,14.1,13.2,12.4,14.6,11.8,13.5,12.1,11.3,13.0,10.9,11.6,10.2,12.3,9.8,10.7,11.9,9.4,10.1,8.8,11.2,9.9,10.5,8.6,11.4,9.2,10.3,8.9,12.1,9.6,10.8,8.5,9.3,11.0,8.7];
const vol10 = [9.4,7.8,10.6,8.3,9.1,7.2,8.8,10.2,7.6,8.5,9.7,7.0,8.1,9.3,7.4,8.7,7.1,8.4,6.6,7.9,9.2,6.8,7.5,8.6,6.3,7.7,9.5,6.9,8.2,7.3,6.5,8.0,7.2,9.0,6.7,7.6,8.3,6.4,7.0,5.6,3.4,3.2,3.1,3.3,3.6,3.2,3.4,3.5,3.8,5.1,4.2,4.6,3.9,6.3,4.4,4.8,3.7,5.0,4.3,4.7,5.2,4.6,6.1,5.4,4.9,6.4,5.8,6.6,5.5,7.1,6.2,8.3,7.6,9.9,8.7,9.4,8.1,10.6,9.2,11.7,10.3,12.4,11.1,13.6,15.2,12.8,14.4,11.9,13.2,12.5,14.8,11.4,13.7,12.2,10.8,13.1,11.6,12.9,10.5,11.8,12.3,10.9,9.8,11.2,10.4,9.6,11.5,10.1,9.4,10.7,11.0,9.9,10.3,9.5,10.8,9.7,8.6,9.3,7.9,8.8,9.7,8.2,7.6,9.1,8.4,7.8,8.9,9.5,8.1,7.4,8.7,9.2,10.4,12.9,11.2,10.6,11.8,9.9,12.2,10.8,11.5,9.6,10.2,9.1,9.8,8.7,7.6,8.4,6.9,7.8,8.9,6.3,7.2,8.1,7.5,6.8,8.6,7.0,7.9,6.5,8.3,7.4,6.9,8.7,7.1,6.2,7.7,8.5,6.6,7.3,8.0,6.4,7.6,8.8,6.9,7.2,6.1,7.8,8.2,6.7,7.4,6.0,7.9,8.4,6.5,7.1,6.8,7.5,8.1,6.3,7.0,7.7,6.6,8.3,7.2,6.4,7.8,6.9,7.3,8.6,6.7,7.5,6.2,7.9,8.1,7.4,8.6,7.7,7.2,8.4,7.9,8.8,7.5,8.2,9.1,8.5,10.2,11.6,13.1,9.9,12.4,10.8,11.9,13.3,10.5,12.2,11.1,9.7,12.8,10.4,11.5,13.6,12.1,16.8,16.2,13.4,14.5,12.7,15.1,13.9,11.8,14.2,12.9,15.6,13.3,18.4,21.9,14.8,15.2,13.1,14.4,12.6,13.8,15.0,12.2,14.1,13.5,12.9,14.7,13.0,12.4,13.6,10.6,9.4,11.3,10.1,8.9,10.8,9.6,11.0,9.2,10.4,8.8,9.9,10.7,9.1];
const vol11 = [9.3,8.2,9.8,8.6,7.9,9.1,8.4,7.7,8.9,8.0,7.5,7.2,6.6,7.8,6.9,7.4,6.3,7.6,7.0,6.5,7.3,6.8,7.9,6.2,7.1,6.7,7.5,6.4,7.2,6.9,6.1,7.4,6.6,7.0,6.3,6.8,4.5,4.1,4.7,3.9,4.3,4.6,3.8,4.2,4.4,4.0,5.2,6.1];
const vol13 = [12.2,11.4,10.6,9.8,10.9,8.7,9.5,10.3,8.9,11.6,9.2,8.4,9.9,8.1,7.6,8.8,9.4,8.2,9.0,8.3,9.6,8.0,12.4,13.8,15.9,12.9,14.6,13.3,15.2,12.2,14.1,16.3,13.6,15.4,12.7,14.8,20.1,16.1,14.3,15.7,13.2,14.9,12.5,13.9,15.0,12.8,14.4,13.1,12.3,13.7,11.8,12.9,10.6,13.4,11.2,10.1,12.3,11.6,9.9,12.7,10.8,11.4,13.1,10.3,11.9,12.6,10.5,11.1,9.8,10.9,11.7,10.2,9.4,8.6,10.2,8.1,9.8,7.8,8.9,10.6,8.3,7.6,9.1,8.5,11.4,13.8,12.5,14.9,13.2,15.6,16.8,14.1,12.7,15.3,13.6,11.9,14.4,12.8,13.5,11.2,12.9,11.6,13.1,10.8,12.2,10.6,11.8,9.7,12.4,10.9,11.3,9.5,12.9,10.2,11.6,9.8,10.7,12.1,9.3,11.4,10.5,13.0,9.9,11.1,10.4,12.6,9.6,10.8,11.7,9.2,10.3,11.5,8.9,10.1,11.9,9.4,10.6,8.7,11.2,9.8,10.4,8.5,9.9,11.0,8.8,10.2,9.1,12.3,9.6,10.9,8.6,9.5,11.3,10.0,12.8,11.5,11.9,10.4,12.6,9.8,11.3,10.7,12.1,9.5,11.6,10.2,12.9,10.8,9.9,11.4,12.4,10.1,11.7,13.2,10.6,12.0,11.1,13.6,12.3,14.2,13.1,15.8,14.6,16.9,15.2,17.4,16.1,18.3,17.0,19.3,18.6,19.9,17.8,18.9,16.7,17.6,15.4,16.3,14.9,15.7,13.8,14.5,12.8,11.6,13.4,10.9,12.2,11.4,12.9,10.7,11.8,12.5,10.3,11.2,12.0,10.6,11.5,9.9,12.6,11.0,10.4,13.1,11.7,12.3,10.8,11.9,10.2,11.3];
const vol14 = [10.8,9.6,11.4,8.9,10.2,11.9,9.3,10.6,8.7,11.1,9.8,10.4,12.2,9.1,10.9,11.6,12.8,10.3,9.5,11.2,10.0,8.8,10.7,9.4,11.5,8.6,9.9,10.5,8.4,9.7,10.1,8.2,9.0,8.5,7.9,8.3,5.9,6.2,5.1,4.6,5.5,3.9,4.3,5.2,3.6,2.8,4.1,3.3,2.4,3.8,4.5,3.1,2.6,3.5,4.8,4.0,5.3,4.4,5.8,6.1,6.4,7.2,6.8,7.5,6.6,7.9,7.0,7.6,8.3,9.8,11.6,13.9,10.7,12.8,14.6,15.9,13.4,16.8,12.1,14.3,15.5,13.0,16.2,17.4,20.5,13.8,12.4,14.1,11.7,13.3,10.9,12.6,14.2,11.5,13.6,12.0,10.8,12.9,11.3,10.6,9.8,9.3,10.1,8.6,6.46];

// ---- build ----
const categories = [];
const toMin = s => (+s.slice(0, 2)) * 60 + (+s.slice(3));
sessions.forEach(([d, a, b]) => {
  for (let m = toMin(a); m <= toMin(b); m += 5) {
    categories.push(d + ' ' + String(Math.floor(m / 60)).padStart(2, '0') + ':' + String(m % 60).padStart(2, '0'));
  }
});
const ohlc = [].concat(day09, day10, day11, day13, day14);
const vols = [].concat(vol09, vol10, vol11, vol13, vol14);
const labelMap = new Map(tickLabels);

const UP = '#089981', DOWN = '#F23645', TXT = '#131722';
const GRID_H = '#d2d3d5', GRID_V = '#c8c9cc';
const FONT = 'Inter';
const fmt3 = v => v.toLocaleString('en-US', {minimumFractionDigits: 3, maximumFractionDigits: 3});
const last = ohlc[ohlc.length - 1];
const prevClose = ohlc[ohlc.length - 2][1];
const chg = last[1] - prevClose;
const minus = '\u2212';
const chgText = (chg < 0 ? minus : '+') + Math.abs(chg).toFixed(3) + ' (' + (chg < 0 ? minus : '+') + Math.abs(chg / prevClose * 100).toFixed(2) + '%)';
const lastVol = vols[vols.length - 1];
const volText = lastVol.toFixed(2) + '\u2009K';

const volData = vols.map((v, i) => ({value: v, itemStyle: {color: ohlc[i][1] >= ohlc[i][0] ? 'rgba(8,153,129,0.36)' : 'rgba(242,54,69,0.36)'}}));

const GL = 17.4, GR = 2048 - 1889, GT = 46, GB = 1529 - 1382;
const showTick = (idx, val) => labelMap.has(val);

const chart = echarts.init(document.getElementById('c'), null, {renderer: 'canvas'});
const AX = {fontSize: 21, fontFamily: FONT, color: TXT};
const LG = 19.5;
const lgRich = {k: {fill: TXT, fontSize: LG, fontFamily: FONT}, v: {fill: DOWN, fontSize: LG, fontFamily: FONT}};
chart.setOption({
  animation: false,
  backgroundColor: '#ffffff',
  grid: [
    {left: GL, right: GR, top: GT, bottom: GB},
    {left: GL, right: GR, top: 1022, bottom: GB}
  ],
  xAxis: [
    {type: 'category', gridIndex: 0, data: categories, boundaryGap: true,
     axisLine: {show: false}, axisTick: {show: false},
     axisLabel: {interval: showTick, margin: 15, color: TXT, fontSize: 21, fontFamily: FONT, hideOverlap: false,
       formatter: v => { const t = labelMap.get(v); if (t === '13') return '{b|13}'; if (t === ':45') return '{p|:45}'; return '{n|' + t + '}'; },
       rich: {n: AX, b: Object.assign({}, AX, {fontWeight: 'bold'}), p: Object.assign({}, AX, {padding: [0, 0, 0, 18]})}},
     splitLine: {show: true, interval: showTick, lineStyle: {color: GRID_V, width: 1}}},
    {type: 'category', gridIndex: 1, data: categories, boundaryGap: true, show: false}
  ],
  yAxis: [
    {type: 'value', gridIndex: 0, position: 'right', min: 3967.84, max: 4156.69, scale: true,
     axisLine: {show: true, lineStyle: {color: GRID_V}},
     axisTick: {show: true, length: 13, inside: false, customValues: priceTicks, lineStyle: {color: GRID_H}},
     splitLine: {show: true, lineStyle: {color: GRID_H, width: 1}},
     axisLabel: {customValues: priceTicks, margin: 27, color: TXT, fontSize: 21, fontFamily: FONT,
       formatter: v => (v % 50 === 0 ? '{b|' + fmt3(v) + '}' : '{n|' + fmt3(v) + '}'),
       rich: {n: AX, b: Object.assign({}, AX, {fontWeight: 'bold'})}}},
    {type: 'value', gridIndex: 1, min: 0, max: 25, show: false, splitLine: {show: false}}
  ],
  series: [
    {type: 'bar', xAxisIndex: 1, yAxisIndex: 1, data: volData, barWidth: '60%', z: 1, silent: true,
     markLine: {silent: true, symbol: ['none', 'none'], lineStyle: {color: 'rgba(0,0,0,0)', width: 1, type: 'solid'},
       label: {show: true, position: 'end', distance: 15, formatter: volText, color: '#ffffff', fontSize: 21, fontFamily: FONT,
         backgroundColor: '#F0535F', padding: [4, 9, 3, 9], borderRadius: 2},
       data: [{yAxis: lastVol}]}},
    {type: 'candlestick', xAxisIndex: 0, yAxisIndex: 0, data: ohlc, barWidth: 1.6, large: false, z: 3, silent: true,
     itemStyle: {color: UP, color0: DOWN, borderColor: UP, borderColor0: DOWN, borderWidth: 1},
     markLine: {silent: true, symbol: ['none', 'none'], lineStyle: {color: DOWN, width: 1, type: [2, 3]},
       label: {show: true, position: 'end', distance: 15, formatter: fmt3(last[1]), color: '#fff', fontSize: 21, fontFamily: FONT,
         backgroundColor: DOWN, padding: [4, 11, 3, 11], borderRadius: 2},
       data: [{yAxis: last[1]}]}}
  ],
  graphic: [
    {type: 'rect', silent: true, z: -10, shape: {x: 16.5, y: 45.5, width: 2015, height: 1383}, style: {fill: 'none', stroke: '#e0e3eb', lineWidth: 1}},
    {type: 'text', silent: true, style: {x: 16, y: 26, text: 'Đã tạo với TradingView.com, Tháng 7 14, 2026 09:42 UTC+7', fill: TXT, fontSize: 19.8, fontFamily: FONT, verticalAlign: 'middle'}},
    {type: 'text', silent: true, style: {x: 30, y: 71, text: 'Vàng / Đô la Mỹ · 5 · ICE', fill: TXT, fontSize: 19, fontFamily: FONT, verticalAlign: 'middle'}},
    {type: 'text', silent: true, style: {x: 265, y: 71, text: '{k|O}{v|' + fmt3(last[0]) + '}', verticalAlign: 'middle', rich: lgRich}},
    {type: 'text', silent: true, style: {x: 384, y: 71, text: '{k|H}{v|' + fmt3(last[3]) + '}', verticalAlign: 'middle', rich: lgRich}},
    {type: 'text', silent: true, style: {x: 504, y: 71, text: '{k|L}{v|' + fmt3(last[2]) + '}', verticalAlign: 'middle', rich: lgRich}},
    {type: 'text', silent: true, style: {x: 619, y: 71, text: '{k|C}{v|' + fmt3(last[1]) + '}', verticalAlign: 'middle', rich: lgRich}},
    {type: 'text', silent: true, style: {x: 738, y: 71, text: chgText, fill: DOWN, fontSize: LG, fontFamily: FONT, verticalAlign: 'middle'}},
    {type: 'text', silent: true, style: {x: 30, y: 99, text: 'Khối lượng', fill: TXT, fontSize: LG, fontFamily: FONT, verticalAlign: 'middle'}},
    {type: 'text', silent: true, style: {x: 140, y: 99, text: volText, fill: DOWN, fontSize: LG, fontFamily: FONT, verticalAlign: 'middle'}},
    {type: 'polygon', silent: true, shape: {points: [[20, 1466], [38, 1466], [38, 1491], [29, 1491], [29, 1475], [20, 1475]]}, style: {fill: TXT}},
    {type: 'circle', silent: true, shape: {cx: 45, cy: 1470.5, r: 4.5}, style: {fill: TXT}},
    {type: 'polygon', silent: true, shape: {points: [[53, 1466], [63, 1466], [52, 1491], [42, 1491]]}, style: {fill: TXT}},
    {type: 'text', silent: true, style: {x: 81, y: 1479, text: 'TradingView', fill: TXT, fontSize: 32, fontWeight: 'bold', fontFamily: FONT, verticalAlign: 'middle'}}
  ]
});
if (ohlc.length !== vols.length || ohlc.length + 4 !== categories.length) {
  throw new Error('length mismatch ohlc=' + ohlc.length + ' vols=' + vols.length + ' cats=' + categories.length);
}
</script>
</body></html>
